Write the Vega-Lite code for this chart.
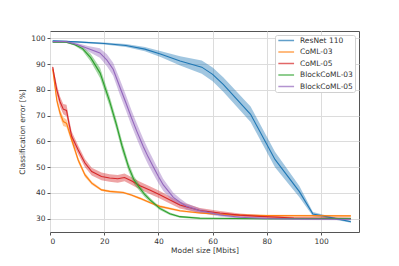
{
  "$schema": "https://vega.github.io/schema/vega-lite/v6.json",
  "width": 309,
  "height": 201,
  "autosize": {"type": "none"},
  "padding": {"left": 50, "top": 31, "right": 40, "bottom": 34},
  "background": "white",
  "config": {
    "font": "DejaVu Sans",
    "view": {"stroke": "#555", "strokeWidth": 1},
    "axis": {
      "domain": false,
      "grid": true,
      "gridColor": "#dcdcdc",
      "gridWidth": 1,
      "tickColor": "#555",
      "tickSize": 3,
      "labelFontSize": 7.5,
      "labelColor": "#333",
      "labelPadding": 2,
      "labelOverlap": false,
      "titleFontSize": 7.5,
      "titleFontWeight": "normal",
      "titleColor": "#333"
    },
    "legend": {
      "labelFont": "DejaVu Sans",
      "labelFontSize": 7.5,
      "labelColor": "#333",
      "symbolType": "M-0.72,0H4.52",
      "symbolSize": 36,
      "symbolStrokeWidth": 1.5,
      "symbolOpacity": 0.7,
      "labelOffset": 15.5,
      "rowPadding": 3.5,
      "padding": 1.5,
      "fillColor": "white",
      "strokeColor": "#d0d0d0",
      "cornerRadius": 2
    }
  },
  "data": {
    "values": [
      {"s": "ResNet 110", "x": 1, "y": 99, "lo": 98.8, "hi": 99.2},
      {"s": "ResNet 110", "x": 10, "y": 98.6, "lo": 98.3, "hi": 98.9},
      {"s": "ResNet 110", "x": 20, "y": 98, "lo": 97.6, "hi": 98.4},
      {"s": "ResNet 110", "x": 28, "y": 97.2, "lo": 96.6, "hi": 97.8},
      {"s": "ResNet 110", "x": 35, "y": 95.8, "lo": 95, "hi": 96.6},
      {"s": "ResNet 110", "x": 41, "y": 93.8, "lo": 92.6, "hi": 95},
      {"s": "ResNet 110", "x": 48, "y": 91.2, "lo": 89.4, "hi": 93},
      {"s": "ResNet 110", "x": 56, "y": 88.8, "lo": 86.2, "hi": 91.4},
      {"s": "ResNet 110", "x": 60, "y": 86, "lo": 83.3, "hi": 88.7},
      {"s": "ResNet 110", "x": 64, "y": 82, "lo": 79.2, "hi": 84.8},
      {"s": "ResNet 110", "x": 74, "y": 70.5, "lo": 67.5, "hi": 73.5},
      {"s": "ResNet 110", "x": 83, "y": 53, "lo": 50, "hi": 56},
      {"s": "ResNet 110", "x": 92, "y": 40.5, "lo": 38.3, "hi": 42.7},
      {"s": "ResNet 110", "x": 97, "y": 31.8, "lo": 31, "hi": 32.6},
      {"s": "ResNet 110", "x": 102, "y": 30.8, "lo": 30.3, "hi": 31.3},
      {"s": "ResNet 110", "x": 111, "y": 28.8, "lo": 28.4, "hi": 29.2},

      {"s": "CoML-03", "x": 1, "y": 88, "lo": 87, "hi": 89},
      {"s": "CoML-03", "x": 2.5, "y": 76, "lo": 74.5, "hi": 77.5},
      {"s": "CoML-03", "x": 3.7, "y": 71, "lo": 69.5, "hi": 72.5},
      {"s": "CoML-03", "x": 4.9, "y": 67.7, "lo": 66, "hi": 69.4},
      {"s": "CoML-03", "x": 6.1, "y": 67, "lo": 65.5, "hi": 68.5},
      {"s": "CoML-03", "x": 8, "y": 60.6, "lo": 59.4, "hi": 61.8},
      {"s": "CoML-03", "x": 10.4, "y": 52.8, "lo": 51.8, "hi": 53.8},
      {"s": "CoML-03", "x": 12.9, "y": 47, "lo": 46.2, "hi": 47.8},
      {"s": "CoML-03", "x": 15.4, "y": 43.8, "lo": 43.2, "hi": 44.4},
      {"s": "CoML-03", "x": 19, "y": 41.2, "lo": 40.8, "hi": 41.6},
      {"s": "CoML-03", "x": 22, "y": 40.6, "lo": 40.2, "hi": 41},
      {"s": "CoML-03", "x": 27, "y": 40.2, "lo": 39.8, "hi": 40.6},
      {"s": "CoML-03", "x": 30, "y": 39.2, "lo": 38.8, "hi": 39.6},
      {"s": "CoML-03", "x": 33.2, "y": 37.9, "lo": 37.5, "hi": 38.3},
      {"s": "CoML-03", "x": 37, "y": 36.2, "lo": 35.8, "hi": 36.6},
      {"s": "CoML-03", "x": 40.5, "y": 34.8, "lo": 34.4, "hi": 35.2},
      {"s": "CoML-03", "x": 47.9, "y": 33.1, "lo": 32.7, "hi": 33.5},
      {"s": "CoML-03", "x": 55.3, "y": 32.2, "lo": 31.9, "hi": 32.5},
      {"s": "CoML-03", "x": 62.7, "y": 31.7, "lo": 31.4, "hi": 32},
      {"s": "CoML-03", "x": 70, "y": 31.4, "lo": 31.1, "hi": 31.7},
      {"s": "CoML-03", "x": 80, "y": 31.2, "lo": 30.9, "hi": 31.5},
      {"s": "CoML-03", "x": 111, "y": 31.1, "lo": 30.8, "hi": 31.4},

      {"s": "CoML-05", "x": 1, "y": 88.8, "lo": 88, "hi": 89.6},
      {"s": "CoML-05", "x": 2.5, "y": 80, "lo": 78, "hi": 82},
      {"s": "CoML-05", "x": 3.7, "y": 75.4, "lo": 73.4, "hi": 77.4},
      {"s": "CoML-05", "x": 4.9, "y": 72.5, "lo": 70.5, "hi": 74.5},
      {"s": "CoML-05", "x": 6.1, "y": 72, "lo": 69.8, "hi": 74.2},
      {"s": "CoML-05", "x": 7, "y": 67, "lo": 65, "hi": 69},
      {"s": "CoML-05", "x": 8, "y": 62, "lo": 60.2, "hi": 63.8},
      {"s": "CoML-05", "x": 10.4, "y": 56.7, "lo": 55, "hi": 58.4},
      {"s": "CoML-05", "x": 12.9, "y": 51.6, "lo": 50, "hi": 53.2},
      {"s": "CoML-05", "x": 15.4, "y": 48.3, "lo": 46.8, "hi": 49.8},
      {"s": "CoML-05", "x": 19, "y": 46.4, "lo": 44.9, "hi": 47.9},
      {"s": "CoML-05", "x": 22, "y": 45.8, "lo": 44.3, "hi": 47.3},
      {"s": "CoML-05", "x": 25, "y": 45.5, "lo": 44, "hi": 47},
      {"s": "CoML-05", "x": 27.5, "y": 46, "lo": 44.5, "hi": 47.5},
      {"s": "CoML-05", "x": 30, "y": 44.7, "lo": 43.2, "hi": 46.2},
      {"s": "CoML-05", "x": 33.2, "y": 42.8, "lo": 41.3, "hi": 44.3},
      {"s": "CoML-05", "x": 37, "y": 41, "lo": 39.5, "hi": 42.5},
      {"s": "CoML-05", "x": 40.5, "y": 39.3, "lo": 37.8, "hi": 40.8},
      {"s": "CoML-05", "x": 47.9, "y": 35.3, "lo": 34, "hi": 36.6},
      {"s": "CoML-05", "x": 55.3, "y": 33.2, "lo": 32.2, "hi": 34.2},
      {"s": "CoML-05", "x": 62.7, "y": 32.2, "lo": 31.4, "hi": 33},
      {"s": "CoML-05", "x": 70, "y": 31.4, "lo": 30.8, "hi": 32},
      {"s": "CoML-05", "x": 77.4, "y": 30.9, "lo": 30.4, "hi": 31.4},
      {"s": "CoML-05", "x": 90, "y": 30.3, "lo": 29.9, "hi": 30.7},
      {"s": "CoML-05", "x": 111, "y": 30.1, "lo": 29.7, "hi": 30.5},

      {"s": "BlockCoML-03", "x": 1, "y": 98.5, "lo": 98.3, "hi": 98.7},
      {"s": "BlockCoML-03", "x": 6, "y": 98.5, "lo": 98.2, "hi": 98.8},
      {"s": "BlockCoML-03", "x": 9, "y": 97.6, "lo": 97.2, "hi": 98},
      {"s": "BlockCoML-03", "x": 12, "y": 96, "lo": 95.2, "hi": 96.8},
      {"s": "BlockCoML-03", "x": 15, "y": 92.5, "lo": 91, "hi": 94},
      {"s": "BlockCoML-03", "x": 18.5, "y": 86.5, "lo": 84.5, "hi": 88.5},
      {"s": "BlockCoML-03", "x": 22, "y": 75.5, "lo": 73.5, "hi": 77.5},
      {"s": "BlockCoML-03", "x": 24.5, "y": 66.5, "lo": 64.5, "hi": 68.5},
      {"s": "BlockCoML-03", "x": 26.5, "y": 58.5, "lo": 56.5, "hi": 60.5},
      {"s": "BlockCoML-03", "x": 29, "y": 50, "lo": 48.3, "hi": 51.7},
      {"s": "BlockCoML-03", "x": 31, "y": 45, "lo": 43.5, "hi": 46.5},
      {"s": "BlockCoML-03", "x": 33.2, "y": 41.8, "lo": 40.6, "hi": 43},
      {"s": "BlockCoML-03", "x": 35, "y": 39.3, "lo": 38.3, "hi": 40.3},
      {"s": "BlockCoML-03", "x": 37, "y": 37.2, "lo": 36.4, "hi": 38},
      {"s": "BlockCoML-03", "x": 40.5, "y": 34, "lo": 33.4, "hi": 34.6},
      {"s": "BlockCoML-03", "x": 44.2, "y": 31.9, "lo": 31.4, "hi": 32.4},
      {"s": "BlockCoML-03", "x": 47.9, "y": 30.8, "lo": 30.4, "hi": 31.2},
      {"s": "BlockCoML-03", "x": 55.3, "y": 30.2, "lo": 29.8, "hi": 30.6},
      {"s": "BlockCoML-03", "x": 80, "y": 30, "lo": 29.7, "hi": 30.3},
      {"s": "BlockCoML-03", "x": 111, "y": 30.1, "lo": 29.8, "hi": 30.4},

      {"s": "BlockCoML-05", "x": 1, "y": 98.7, "lo": 98.4, "hi": 99},
      {"s": "BlockCoML-05", "x": 6, "y": 98.7, "lo": 98.3, "hi": 99.1},
      {"s": "BlockCoML-05", "x": 10, "y": 97.6, "lo": 97, "hi": 98.2},
      {"s": "BlockCoML-05", "x": 14, "y": 96, "lo": 95, "hi": 97},
      {"s": "BlockCoML-05", "x": 18.4, "y": 94.3, "lo": 92.5, "hi": 96.1},
      {"s": "BlockCoML-05", "x": 21, "y": 91.5, "lo": 89.2, "hi": 93.8},
      {"s": "BlockCoML-05", "x": 23.3, "y": 88, "lo": 85.5, "hi": 90.5},
      {"s": "BlockCoML-05", "x": 25.8, "y": 81, "lo": 78, "hi": 84},
      {"s": "BlockCoML-05", "x": 28, "y": 75, "lo": 72, "hi": 78},
      {"s": "BlockCoML-05", "x": 30, "y": 69.3, "lo": 66.3, "hi": 72.3},
      {"s": "BlockCoML-05", "x": 32, "y": 64, "lo": 61, "hi": 67},
      {"s": "BlockCoML-05", "x": 34.4, "y": 58, "lo": 55, "hi": 61},
      {"s": "BlockCoML-05", "x": 36.2, "y": 54, "lo": 51, "hi": 57},
      {"s": "BlockCoML-05", "x": 38.1, "y": 50.2, "lo": 47.4, "hi": 53},
      {"s": "BlockCoML-05", "x": 40, "y": 46.4, "lo": 43.8, "hi": 49},
      {"s": "BlockCoML-05", "x": 41.8, "y": 43.1, "lo": 40.8, "hi": 45.4},
      {"s": "BlockCoML-05", "x": 45.5, "y": 38.3, "lo": 36.5, "hi": 40.1},
      {"s": "BlockCoML-05", "x": 48, "y": 36.4, "lo": 35, "hi": 37.8},
      {"s": "BlockCoML-05", "x": 50.4, "y": 34.8, "lo": 33.6, "hi": 36},
      {"s": "BlockCoML-05", "x": 55.3, "y": 33.1, "lo": 32.2, "hi": 34},
      {"s": "BlockCoML-05", "x": 62.7, "y": 31.5, "lo": 30.9, "hi": 32.1},
      {"s": "BlockCoML-05", "x": 70, "y": 30.6, "lo": 30.1, "hi": 31.1},
      {"s": "BlockCoML-05", "x": 80, "y": 30.1, "lo": 29.7, "hi": 30.5},
      {"s": "BlockCoML-05", "x": 90, "y": 29.9, "lo": 29.5, "hi": 30.3},
      {"s": "BlockCoML-05", "x": 111, "y": 29.8, "lo": 29.4, "hi": 30.2}
    ]
  },
  "encoding": {
    "x": {
      "field": "x", "type": "quantitative",
      "scale": {"domain": [0, 114], "nice": false, "zero": false},
      "axis": {"values": [0, 20, 40, 60, 80, 100], "title": "Model size [Mbits]", "titlePadding": 2, "labelOverlap": false}
    },
    "color": {
      "field": "s", "type": "nominal",
      "scale": {
        "domain": ["ResNet 110", "CoML-03", "CoML-05", "BlockCoML-03", "BlockCoML-05"],
        "range": ["#1f77b4", "#ff7f0e", "#d62728", "#2ca02c", "#9467bd"]
      },
      "legend": {"title": null, "orient": "top-right", "offset": 4}
    }
  },
  "layer": [
    {
      "mark": {"type": "area", "fillOpacity": 0.42, "strokeWidth": 0, "stroke": "transparent", "strokeOpacity": 0},
      "encoding": {
        "y": {
          "field": "lo", "type": "quantitative", "stack": null,
          "scale": {"domain": [24.85, 102.83], "nice": false, "zero": false},
          "axis": {"values": [30, 40, 50, 60, 70, 80, 90, 100], "title": "Classification error [%]", "titlePadding": 4, "labelOverlap": false}
        },
        "y2": {"field": "hi"}
      }
    },
    {
      "mark": {"type": "line", "strokeWidth": 1.1},
      "encoding": {
        "y": {"field": "y", "type": "quantitative", "axis": {"values": [30, 40, 50, 60, 70, 80, 90, 100], "title": "Classification error [%]", "titlePadding": 4, "labelOverlap": false}}
      }
    }
  ]
}
